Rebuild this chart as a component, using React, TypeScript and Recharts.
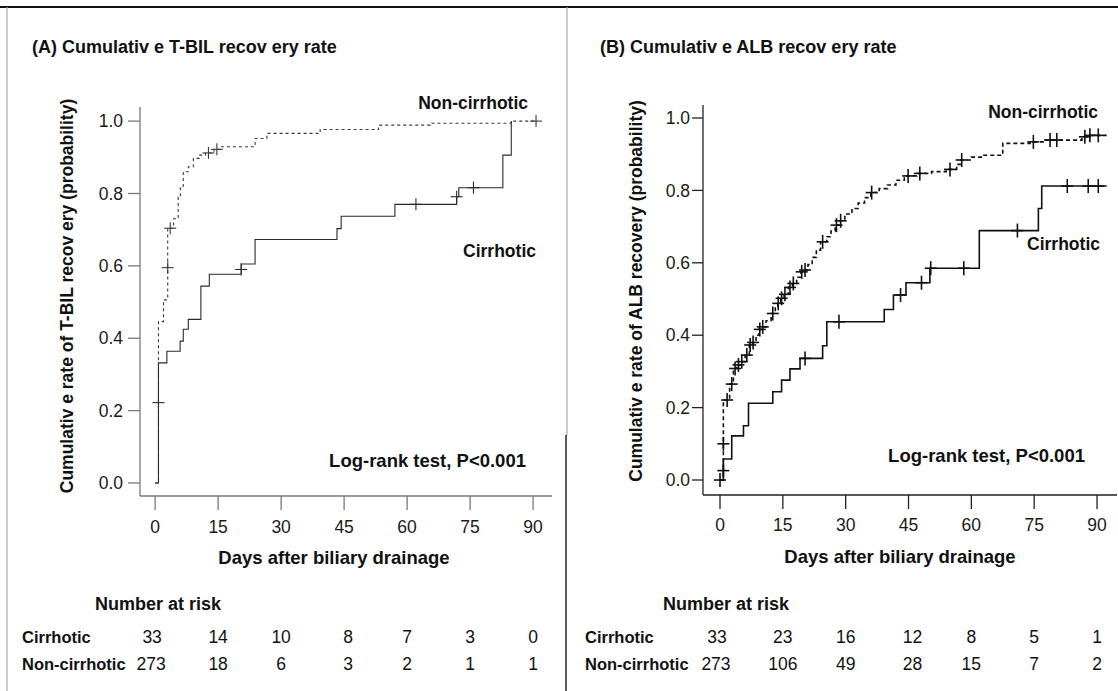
import React from "react";
import { ComposedChart, Line, Scatter, XAxis, YAxis } from "recharts";

const FONT = '"Liberation Sans", Arial, Helvetica, sans-serif';

const dayTicks = [0, 15, 30, 45, 60, 75, 90];
const probTicks = [0, 0.2, 0.4, 0.6, 0.8, 1.0];

// (A) T-BIL — step points (day, cumulative rate)
const tbilCirrDays = [0, 0.8, 2.8, 5.95, 6.7, 7.9, 10.9, 12.9, 20.5, 23.8, 43.3, 44.3, 57.1, 71.8, 72.3, 82.8, 84.8];
const tbilCirrRate = [0, 0.332, 0.364, 0.392, 0.425, 0.452, 0.544, 0.577, 0.605, 0.673, 0.703, 0.737, 0.77, 0.791, 0.816, 0.906, 1.0];
const tbilNonDays = [0, 0.8, 2.0, 3.0, 4.4, 5.5, 6.0, 6.7, 7.9, 9.1, 10.5, 12.0, 14.0, 15.5, 23.8, 26.6, 39.3, 53.2, 65.5, 84.8, 90.7];
const tbilNonRate = [0, 0.446, 0.506, 0.704, 0.73, 0.79, 0.815, 0.86, 0.874, 0.897, 0.906, 0.912, 0.922, 0.929, 0.952, 0.966, 0.977, 0.989, 0.994, 1.0, 1.0];
// censored cases (+)
const tbilCirrCensDays = [0.8, 20.5, 62.1, 71.8, 75.8];
const tbilCirrCensRate = [0.222, 0.59, 0.77, 0.791, 0.816];
const tbilNonCensDays = [3.0, 3.6, 12.7, 14.7, 90.7];
const tbilNonCensRate = [0.595, 0.704, 0.912, 0.922, 1.0];

// (B) ALB
const albCirrDays = [0, 0.8, 2.8, 5.6, 6.8, 12.6, 14.7, 16.7, 19.1, 24.5, 25.5, 39.2, 41.4, 44.4, 50.1, 61.9, 76.0, 76.8, 92.3];
const albCirrRate = [0, 0.058, 0.122, 0.15, 0.212, 0.244, 0.276, 0.307, 0.336, 0.371, 0.437, 0.471, 0.511, 0.545, 0.585, 0.689, 0.75, 0.812, 0.812];
const albNonDays = [0, 0.8, 2.3, 3.2, 4.0, 5.0, 6.0, 7.0, 7.8, 8.6, 9.3, 10.0, 11.0, 12.2, 13.2, 13.8, 14.5, 15.3, 16.3, 17.3, 18.3, 19.3, 20.0, 21.0, 22.0, 23.0, 24.0, 25.5, 26.5, 27.5, 28.5, 29.8, 31.5, 33.0, 34.5, 36.0, 38.0, 40.0, 42.0, 44.0, 47.0, 50.5, 54.0, 56.5, 57.5, 60.0, 63.0, 67.5, 74.0, 77.5, 86.4, 88.0, 92.3];
const albNonRate = [0, 0.221, 0.265, 0.308, 0.318, 0.327, 0.345, 0.373, 0.38, 0.4, 0.416, 0.423, 0.44, 0.46, 0.475, 0.488, 0.502, 0.513, 0.532, 0.543, 0.56, 0.575, 0.58, 0.595, 0.615, 0.635, 0.658, 0.672, 0.688, 0.704, 0.716, 0.735, 0.75, 0.765, 0.78, 0.794, 0.805, 0.815, 0.828, 0.84, 0.847, 0.852, 0.858, 0.872, 0.884, 0.892, 0.897, 0.93, 0.934, 0.939, 0.948, 0.952, 0.952];
const albCirrCensDays = [0.8, 20.3, 28.4, 43.1, 48.1, 50.3, 58.2, 71.0, 82.9, 87.9, 90.3];
const albCirrCensRate = [0.026, 0.336, 0.437, 0.511, 0.545, 0.585, 0.585, 0.689, 0.812, 0.812, 0.812];
const albNonCensDays = [0, 0.8, 1.7, 2.8, 3.6, 4.4, 5.2, 6.4, 7.2, 7.9, 9.5, 10.2, 12.6, 13.9, 14.7, 15.5, 16.7, 17.5, 19.5, 20.3, 24.5, 27.8, 28.8, 36.2, 44.9, 47.7, 54.9, 57.7, 74.8, 78.8, 80.4, 87.1, 88.3, 90.3];
const albNonCensRate = [0, 0.1, 0.221, 0.265, 0.308, 0.318, 0.327, 0.345, 0.373, 0.38, 0.416, 0.423, 0.46, 0.488, 0.502, 0.513, 0.532, 0.543, 0.575, 0.58, 0.658, 0.704, 0.716, 0.794, 0.84, 0.847, 0.858, 0.884, 0.934, 0.939, 0.939, 0.948, 0.952, 0.952];

// number at risk
const riskTimes = [0, 15, 30, 45, 60, 75, 90];
const tbilRiskCirr = [33, 14, 10, 8, 7, 3, 0];
const tbilRiskNon = [273, 18, 6, 3, 2, 1, 1];
const albRiskCirr = [33, 23, 16, 12, 8, 5, 1];
const albRiskNon = [273, 106, 49, 28, 15, 7, 2];

const pts = (days: number[], rate: number[]) => days.map((d, i) => ({ d, p: rate[i] }));

const cross = (w: number, h: number, sw: number, color: string) => (props: any) => {
  const { cx, cy } = props;
  if (cx == null || cy == null) return <g />;
  return (
    <g>
      <line x1={cx - w} x2={cx + w} y1={cy} y2={cy} stroke={color} strokeWidth={sw} />
      <line x1={cx} x2={cx} y1={cy - h} y2={cy + h} stroke={color} strokeWidth={sw} />
    </g>
  );
};

type PanelProps = {
  left: number;
  width: number;
  plot: { x0: number; x1: number; y0: number; y1: number };
  xDomain: [number, number];
  yDomain: [number, number];
  cirr: { d: number; p: number }[];
  non: { d: number; p: number }[];
  cirrCens: { d: number; p: number }[];
  nonCens: { d: number; p: number }[];
  axisColor: string;
  lineColor: string;
  dashColor: string;
  lineWidth: number;
  dash: string;
  yTickSize: number;
  yTickMargin: number;
  xTickMargin: number;
  mark: [number, number, number];
};

function KMPanel(pr: PanelProps) {
  const yW = 60;
  const xH = 40;
  const H = 691;
  const margin = {
    left: pr.plot.x0 - pr.left - yW,
    right: pr.left + pr.width - pr.plot.x1,
    top: pr.plot.y0,
    bottom: H - pr.plot.y1 - xH,
  };
  const tick = { fill: "#1a1a1a", fontSize: 17.5, fontFamily: FONT };
  return (
    <div style={{ position: "absolute", left: pr.left, top: 0 }}>
      <ComposedChart width={pr.width} height={H} margin={margin}>
        <XAxis
          type="number"
          dataKey="d"
          domain={pr.xDomain}
          ticks={dayTicks}
          allowDataOverflow
          height={xH}
          tick={tick}
          tickSize={14}
          tickMargin={pr.xTickMargin}
          axisLine={{ stroke: pr.axisColor, strokeWidth: 1.3 }}
          tickLine={{ stroke: pr.axisColor, strokeWidth: 1.3 }}
        />
        <YAxis
          type="number"
          dataKey="p"
          domain={pr.yDomain}
          ticks={probTicks}
          allowDataOverflow
          width={yW}
          tick={tick}
          tickSize={pr.yTickSize}
          tickMargin={pr.yTickMargin}
          tickFormatter={(v: number) => v.toFixed(1)}
          axisLine={{ stroke: pr.axisColor, strokeWidth: 1.3 }}
          tickLine={{ stroke: pr.axisColor, strokeWidth: 1.3 }}
        />
        <Line
          data={pr.non}
          dataKey="p"
          type="stepAfter"
          stroke={pr.dashColor}
          strokeWidth={pr.lineWidth}
          strokeDasharray={pr.dash}
          dot={false}
          activeDot={false}
          isAnimationActive={false}
        />
        <Line
          data={pr.cirr}
          dataKey="p"
          type="stepAfter"
          stroke={pr.lineColor}
          strokeWidth={pr.lineWidth}
          dot={false}
          activeDot={false}
          isAnimationActive={false}
        />
        <Scatter
          data={pr.nonCens}
          dataKey="p"
          shape={cross(pr.mark[0], pr.mark[1], pr.mark[2], pr.dashColor)}
          isAnimationActive={false}
        />
        <Scatter
          data={pr.cirrCens}
          dataKey="p"
          shape={cross(pr.mark[0], pr.mark[1], pr.mark[2], pr.lineColor)}
          isAnimationActive={false}
        />
      </ComposedChart>
    </div>
  );
}

const plotA = { x0: 140, x1: 552, y0: 107, y1: 496 };
const xDomA: [number, number] = [-3.6, 94.5];
const yDomA: [number, number] = [-0.036, 1.039];
const plotB = { x0: 703, x1: 1117, y0: 105, y1: 495 };
const xDomB: [number, number] = [-4.06, 94.77];
const yDomB: [number, number] = [-0.0414, 1.0359];

const toPx = (t: number, plot: { x0: number; x1: number }, dom: [number, number]) =>
  plot.x0 + ((t - dom[0]) / (dom[1] - dom[0])) * (plot.x1 - plot.x0);

function RiskTable(props: {
  labelX: number;
  headX: number;
  plot: { x0: number; x1: number };
  dom: [number, number];
  cirr: number[];
  non: number[];
}) {
  const bold = { fontFamily: FONT, fontWeight: 700, fontSize: 18, fill: "#111" } as const;
  const reg = { fontFamily: FONT, fontSize: 17.5, fill: "#111" } as const;
  return (
    <g>
      <text x={props.headX} y={610} {...bold}>Number at risk</text>
      <text x={props.labelX} y={643} {...bold} fontSize={16.5}>Cirrhotic</text>
      <text x={props.labelX} y={670} {...bold} fontSize={16.5}>Non-cirrhotic</text>
      {riskTimes.map((t, i) => (
        <text key={"c" + t} x={toPx(t, props.plot, props.dom) - (i === 0 ? 3 : 0) + (i === 3 ? 4 : 0)} y={643} textAnchor="middle" {...reg}>
          {props.cirr[i]}
        </text>
      ))}
      {riskTimes.map((t, i) => (
        <text key={"n" + t} x={toPx(t, props.plot, props.dom) - (i === 0 ? 4 : 0) + (i === 3 ? 4 : 0)} y={670} textAnchor="middle" {...reg}>
          {props.non[i]}
        </text>
      ))}
    </g>
  );
}

export default function App() {
  const bold = { fontFamily: FONT, fontWeight: 700, fill: "#111" } as const;
  return (
    <div style={{ position: "absolute", left: 0, top: 0, width: 1118, height: 691, background: "#fff", overflow: "hidden" }}>
      <KMPanel
        left={0}
        width={570}
        plot={plotA}
        xDomain={xDomA}
        yDomain={yDomA}
        cirr={pts(tbilCirrDays, tbilCirrRate)}
        non={pts(tbilNonDays, tbilNonRate)}
        cirrCens={pts(tbilCirrCensDays, tbilCirrCensRate)}
        nonCens={pts(tbilNonCensDays, tbilNonCensRate)}
        axisColor="#7a7a7a"
        lineColor="#2a2a2a"
        dashColor="#3a3a3a"
        lineWidth={1.1}
        dash="3 3"
        yTickSize={12}
        yTickMargin={5}
        xTickMargin={11}
        mark={[6, 6, 1.1]}
      />
      <KMPanel
        left={560}
        width={558}
        plot={plotB}
        xDomain={xDomB}
        yDomain={yDomB}
        cirr={pts(albCirrDays, albCirrRate)}
        non={pts(albNonDays, albNonRate)}
        cirrCens={pts(albCirrCensDays, albCirrCensRate)}
        nonCens={pts(albNonCensDays, albNonCensRate)}
        axisColor="#222"
        lineColor="#111"
        dashColor="#111"
        lineWidth={1.6}
        dash="4 3"
        yTickSize={11}
        yTickMargin={2}
        xTickMargin={10}
        mark={[6, 7, 1.6]}
      />
      <svg width={1118} height={691} style={{ position: "absolute", left: 0, top: 0, pointerEvents: "none" }}>
        {/* frame */}
        <line x1={0} x2={1118} y1={7} y2={7} stroke="#111" strokeWidth={2} />
        <line x1={7} x2={7} y1={7} y2={691} stroke="#aaa" strokeWidth={1.2} />
        <line x1={567} x2={567} y1={7} y2={435} stroke="#aaa" strokeWidth={1.2} />
        <line x1={566} x2={566} y1={435} y2={691} stroke="#222" strokeWidth={1.5} />

        {/* panel A */}
        <text x={32} y={53} fontSize={18} {...bold}>(A) Cumulativ e T-BIL  recov ery rate</text>
        <text transform="translate(73,296) rotate(-90)" textAnchor="middle" fontSize={17.5} {...bold}>
          Cumulativ e rate of T-BIL  recov ery (probability)
        </text>
        <text x={528} y={109} textAnchor="end" fontSize={17.5} {...bold}>Non-cirrhotic</text>
        <text x={536} y={257} textAnchor="end" fontSize={17.5} {...bold}>Cirrhotic</text>
        <text x={526} y={467} textAnchor="end" fontSize={18.5} {...bold}>Log-rank test, P&lt;0.001</text>
        <text x={334} y={564} textAnchor="middle" fontSize={18.5} {...bold}>Days after biliary drainage</text>
        <RiskTable labelX={22} headX={95} plot={plotA} dom={xDomA} cirr={tbilRiskCirr} non={tbilRiskNon} />

        {/* panel B */}
        <text x={600} y={53} fontSize={18} {...bold}>(B) Cumulativ e ALB recov ery rate</text>
        <text transform="translate(642,291) rotate(-90)" textAnchor="middle" fontSize={17.5} {...bold}>
          Cumulativ e rate of ALB recovery (probability)
        </text>
        <text x={1098} y={118} textAnchor="end" fontSize={17.5} {...bold}>Non-cirrhotic</text>
        <text x={1100} y={250} textAnchor="end" fontSize={17.5} {...bold}>Cirrhotic</text>
        <text x={1085} y={462} textAnchor="end" fontSize={18.5} {...bold}>Log-rank test, P&lt;0.001</text>
        <text x={900} y={563} textAnchor="middle" fontSize={18.5} {...bold}>Days after biliary drainage</text>
        <RiskTable labelX={585} headX={663} plot={plotB} dom={xDomB} cirr={albRiskCirr} non={albRiskNon} />
      </svg>
    </div>
  );
}
